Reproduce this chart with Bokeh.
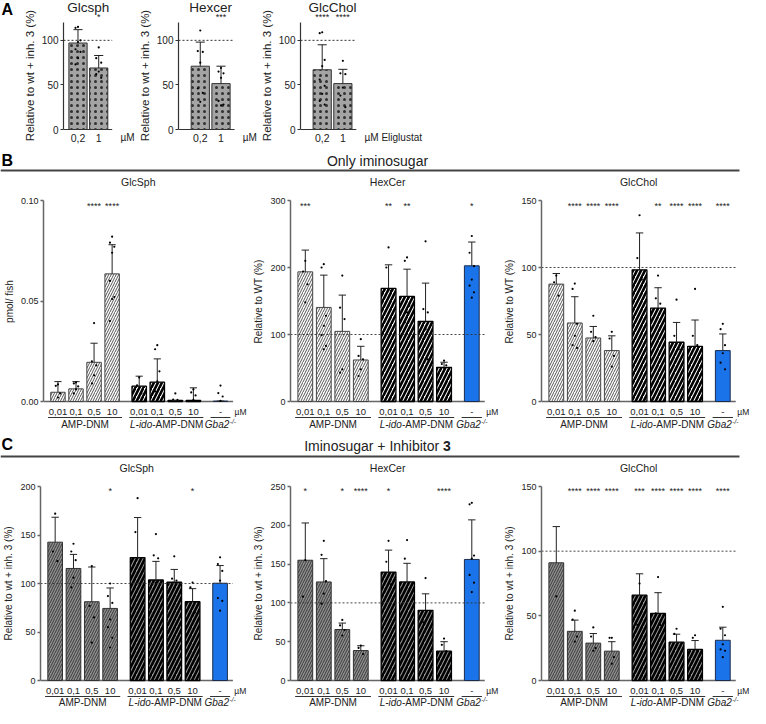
from bokeh.plotting import figure
from bokeh.layouts import column, row
from bokeh.models import Range1d, FixedTicker, PrintfTickFormatter
from bokeh.core.properties import value
from bokeh.embed import file_html
from bokeh.resources import INLINE

FONT = "Liberation Sans"

# ---------------- data: panel A (Eliglustat) ----------------
a_conc = ["0,2", "1"]
a_glcsph_mean = [97, 69]
a_glcsph_err = [15, 14]
a_glcsph_pts = [[115, 114, 100, 98, 90, 87, 80, 73], [92, 80, 75, 65, 62, 58]]
a_glcsph_sig = ["", "*"]

a_hexcer_mean = [71, 51.5]
a_hexcer_err = [27, 19.5]
a_hexcer_pts = [[111, 88, 87, 75, 46, 41, 31], [69, 65, 63, 58, 32, 28, 27]]
a_hexcer_sig = ["", "***"]

a_glcchol_mean = [67, 51.5]
a_glcchol_err = [28, 16]
a_glcchol_pts = [[109, 108, 78, 71, 56, 49, 40, 32, 28], [77, 63, 62, 47, 38, 25]]
a_glcchol_sig = ["****", "****"]

# ---------------- data: panels B/C ----------------
conc = ["0,01", "0,1", "0,5", "10", "0,01", "0,1", "0,5", "10", "-"]
group_of = [0, 0, 0, 0, 1, 1, 1, 1, 2]

# B: only iminosugar
b_glcsph_mean = [0.0046, 0.0063, 0.0195, 0.0635, 0.0076, 0.0096, 0.0005, 0.0006, 0.0002]
b_glcsph_err = [0.0053, 0.0036, 0.0095, 0.0145, 0.0050, 0.0116, 0.0, 0.0062, 0.0]
b_glcsph_pts = [[0.0085, 0.0078, 0.004, 0.002], [0.0095, 0.009, 0.0075, 0.006, 0.004],
                [0.039, 0.02, 0.018, 0.013, 0.009], [0.082, 0.079, 0.077, 0.074, 0.06, 0.052, 0.051, 0.04],
                [0.012, 0.008, 0.004, 0.002], [0.028, 0.026, 0.015, 0.01, 0.005],
                [0.004, 0.001, 0.0008], [0.006, 0.0045, 0.003, 0.0008], [0.0079, 0.0042, 0.0025, 0.0003]]
b_glcsph_sig = ["", "", "****", "****", "", "", "", "", ""]

b_hexcer_mean = [193.5, 140.4, 104.7, 62, 168.7, 156.8, 119.6, 51, 202.5]
b_hexcer_err = [32.5, 48.2, 54.1, 20.4, 35.3, 40.7, 57.1, 7.6, 35.5]
b_hexcer_pts = [[210, 194, 175, 148], [205, 200, 128, 113, 99, 83, 78], [188, 140, 123, 48, 43],
                [93, 68, 63, 48, 38], [230, 200, 165, 143], [215, 210, 143, 133, 118],
                [239, 138, 133, 108, 93, 63], [61, 56, 54, 50], [247, 222, 202, 182, 173, 163, 155]]
b_hexcer_sig = ["***", "", "", "", "**", "**", "", "", "*"]

b_glcchol_mean = [87.6, 58.6, 47.4, 38, 98.3, 69.7, 44.2, 41.2, 38]
b_glcchol_err = [7.9, 19.6, 8.6, 11, 27.5, 15.2, 14.8, 19.6, 12.4]
b_glcchol_pts = [[94, 89, 79], [88, 84, 58, 49, 42, 40], [64, 52, 48, 45], [52, 47, 34, 26],
                 [139, 107, 91], [94, 77, 73], [76, 49, 39], [84, 49, 42], [58, 54, 42, 36, 29, 24]]
b_glcchol_sig = ["", "****", "****", "****", "", "**", "****", "****", "****"]

# C: iminosugar + inhibitor 3
c_glcsph_mean = [142.6, 115.5, 81.2, 74.3, 126.7, 103.6, 101.3, 81.2, 100.3]
c_glcsph_err = [25.7, 14.5, 35.8, 21.1, 41.3, 19.2, 13.2, 13.5, 18.2]
c_glcsph_pts = [[172, 133, 123], [141, 133, 124, 106, 96], [118, 77, 65, 39],
                [100, 87, 80, 63, 55, 44, 34], [188, 153, 100], [151, 129, 126, 101],
                [128, 105, 103], [101, 96, 70, 67], [127, 120, 113, 103, 85, 82, 72]]
c_glcsph_sig = ["", "", "", "*", "", "", "", "*", ""]

c_hexcer_mean = [155, 127, 65.7, 38.6, 139.7, 127, 90.4, 37.8, 156]
c_hexcer_err = [48, 30, 8.3, 6.2, 28.3, 24, 21.3, 12.2, 51]
c_hexcer_pts = [[155, 108], [180, 162, 128, 112, 99], [78, 71, 65, 58], [45, 42, 34],
                [180, 153, 124], [181, 157, 116], [132, 75], [54, 46, 38, 30],
                [229, 227, 161, 157, 136, 126, 114]]
c_hexcer_sig = ["*", "", "*", "****", "*", "", "", "****", ""]

c_glcchol_mean = [91, 38, 28.9, 22.7, 66, 51.9, 29.6, 24, 31.1]
c_glcchol_err = [28, 8.7, 7.4, 7.3, 16.5, 16, 6.2, 6.9, 10.1]
c_glcchol_pts = [[65], [54, 47, 34, 30], [41, 34, 25, 23], [33, 33, 18, 13], [75, 43],
                 [80, 52, 43], [40, 36, 25], [35, 33, 23], [57, 40, 35, 28, 24, 23, 18]]
c_glcchol_sig = ["", "****", "****", "****", "***", "****", "****", "****", "****"]

# ---------------- layout constants ----------------
x_pos = [0, 1, 2, 3, 4.5, 5.5, 6.5, 7.5, 9]
UNIT = 18.5
XS = -0.8
AXIS_END = 9.7
JIT = [0.0, -0.12, 0.12]
TXT = "#222222"


def txt(p, x, y, s, size, align="center", baseline="middle", style="normal", color=TXT):
    p.text(x=[x], y=[y], text=[s], text_font=value(FONT), text_font_size=f"{size}px",
           text_align=align, text_baseline=baseline, text_font_style=style, text_color=color)


def blank_fig(w, h):
    p = figure(width=w, height=h, x_range=Range1d(0, w), y_range=Range1d(h, 0),
               x_axis_location=None, y_axis_location=None, toolbar_location=None,
               output_backend="svg", min_border=0, outline_line_color=None)
    p.grid.visible = False
    return p


def style_yaxis(p, ticks, top, label, lab_size, tick_size, color, width):
    ax = p.yaxis[0]
    ax.ticker = FixedTicker(ticks=ticks)
    ax.bounds = (0, top)
    ax.axis_label = label
    ax.axis_label_text_font = FONT
    ax.axis_label_text_font_style = "normal"
    ax.axis_label_text_font_size = f"{lab_size}px"
    ax.axis_label_text_color = TXT
    ax.axis_label_standoff = 3
    ax.major_label_text_font = FONT
    ax.major_label_text_font_size = f"{tick_size}px"
    ax.major_label_text_color = TXT
    ax.major_label_standoff = 2
    ax.major_tick_in = 0
    ax.major_tick_out = 3
    ax.minor_tick_out = 0
    ax.minor_tick_in = 0
    ax.axis_line_color = color
    ax.axis_line_width = width
    ax.major_tick_line_color = color
    ax.major_tick_line_width = width


def points(p, xs, pts):
    px, py = [], []
    for x, vals in zip(xs, pts):
        for k, v in enumerate(vals):
            px.append(x + JIT[k % 3])
            py.append(v)
    p.scatter(px, py, size=2.2, color="black", line_color=None)


def errors(p, xs, means, errs, cap, color="#222222"):
    tops = [m + e for m, e in zip(means, errs)]
    p.segment(x0=xs, y0=means, x1=xs, y1=tops, line_color=color, line_width=1)
    p.segment(x0=[x - cap for x in xs], y0=tops, x1=[x + cap for x in xs], y1=tops,
              line_color=color, line_width=1)


# ---------------- panel A ----------------
def a_plot(title, means, errs, pts, sig, border, frame_w, x0, unit_text):
    H, px_top, px_zero, top = 150, 22, 129, 120
    s = (px_zero - px_top) / top
    Y = lambda px: (px_zero - px) / s
    x1 = x0 + frame_w / 21.0
    p = figure(width=border + frame_w, height=H, x_range=Range1d(x0, x1),
               y_range=Range1d(-(H - px_zero) / s, top + px_top / s),
               x_axis_location=None, toolbar_location=None, output_backend="svg",
               min_border_left=border, min_border_right=0, min_border_top=0,
               min_border_bottom=0, outline_line_color=None)
    p.grid.visible = False
    style_yaxis(p, [0, 50, 100], top, "Relative to wt + inh. 3 (%)", 11.5, 10, "#333333", 1.2)
    xs = list(range(len(means)))
    end = 1.65
    p.segment(x0=[x0], y0=[0], x1=[end], y1=[0], line_color="#333333", line_width=1.2)
    p.vbar(x=xs, top=means, bottom=0, width=0.88, fill_color="#a4a4a4", line_color="#333333",
           line_width=1, hatch_pattern=".", hatch_color="black", hatch_scale=6,
           hatch_weight=0.7, hatch_alpha=0.7)
    p.segment(x0=[x0], y0=[100], x1=[end], y1=[100], line_dash="2 2", line_color="#333333",
              line_width=1)
    errors(p, xs, means, errs, 0.22)
    points(p, xs, pts)
    for x, sg in zip(xs, sig):
        if sg:
            txt(p, x, Y(16), sg, 9)
    for x, c in zip(xs, a_conc):
        txt(p, x, Y(137), c, 10.5)
    txt(p, 2.05, Y(137), unit_text, 10, align="left")
    txt(p, 0.5, Y(7), title, 13.5)
    return p


letterA = blank_fig(20, 150)
txt(letterA, 1, 9, "A", 16, align="left", style="bold", color="black")
a1 = a_plot("Glcsph", a_glcsph_mean, a_glcsph_err, a_glcsph_pts, a_glcsph_sig, 42, 73, -0.7, "\u00b5M")
a2 = a_plot("Hexcer", a_hexcer_mean, a_hexcer_err, a_hexcer_pts, a_hexcer_sig, 42, 80, -1.05, "\u00b5M")
a3 = a_plot("GlcChol", a_glcchol_mean, a_glcchol_err, a_glcchol_pts, a_glcchol_sig, 41, 126, -1.05,
            "\u00b5M Eliglustat")

# ---------------- panels B/C ----------------
STY = {
    "B": [dict(fill_color="white", hatch_pattern="/", hatch_color="#555555", hatch_scale=5,
               hatch_weight=1.0, line_color="#444444", line_width=1),
          dict(fill_color="white", hatch_pattern="/", hatch_color="black", hatch_scale=8,
               hatch_weight=2.6, line_color="black", line_width=1.3),
          dict(fill_color="#1a73e8", line_color="#1d2b4a", line_width=1)],
    "C": [dict(fill_color="#8e8e8e", hatch_pattern="/", hatch_color="#3a3a3a", hatch_scale=5,
               hatch_weight=1.0, line_color="#333333", line_width=1),
          dict(fill_color="#9a9a9a", hatch_pattern="/", hatch_color="black", hatch_scale=8,
               hatch_weight=2.6, line_color="black", line_width=1.3),
          dict(fill_color="#1a73e8", line_color="#1d2b4a", line_width=1)],
}


def bc_plot(section, title, ylabel, means, errs, pts, sig, top, ticks, width, border, geo,
            fmt=None, ref100=True):
    H, px_top, px_zero, px_lab, px_gline, px_glab, px_title, px_star = geo
    frame_w = width - border
    xe = XS + frame_w / UNIT
    s = (px_zero - px_top) / top
    Y = lambda px: (px_zero - px) / s
    p = figure(width=width, height=H, x_range=Range1d(XS, xe),
               y_range=Range1d(-(H - px_zero) / s, top + px_top / s),
               x_axis_location=None, toolbar_location=None, output_backend="svg",
               min_border_left=border, min_border_right=0, min_border_top=0,
               min_border_bottom=0, outline_line_color=None)
    p.grid.visible = False
    style_yaxis(p, ticks, top, ylabel, 10, 9, "#666666", 1.5)
    if fmt:
        p.yaxis[0].formatter = PrintfTickFormatter(format=fmt)
    p.segment(x0=[XS], y0=[0], x1=[AXIS_END], y1=[0], line_color="#666666", line_width=1.5)
    for g in range(3):
        idx = [i for i in range(len(means)) if group_of[i] == g]
        p.vbar(x=[x_pos[i] for i in idx], top=[means[i] for i in idx], bottom=0, width=0.8,
               **STY[section][g])
    if ref100:
        p.segment(x0=[XS], y0=[100], x1=[AXIS_END], y1=[100], line_dash="2 2",
                  line_color="#333333", line_width=0.9)
    errors(p, x_pos, means, errs, 0.2)
    points(p, x_pos, pts)
    for x, sg in zip(x_pos, sig):
        if sg:
            txt(p, x, Y(px_star), sg, 9)
    for x, c in zip(x_pos, conc):
        txt(p, x, Y(px_lab), c, 9.5)
    txt(p, AXIS_END + 0.08, Y(px_lab), "\u00b5M", 8.5, align="left")
    # group underlines and labels
    for g in range(3):
        gx = [x_pos[i] for i in range(len(conc)) if group_of[i] == g]
        p.segment(x0=[min(gx) - 0.55], y0=[Y(px_gline)], x1=[max(gx) + 0.55], y1=[Y(px_gline)],
                  line_color="#333333", line_width=1)
    g0 = [x_pos[i] for i in range(len(conc)) if group_of[i] == 0]
    g1 = [x_pos[i] for i in range(len(conc)) if group_of[i] == 1]
    g2 = [x_pos[i] for i in range(len(conc)) if group_of[i] == 2]
    txt(p, sum(g0) / len(g0), Y(px_glab), "AMP-DNM", 10)
    split = sum(g1) / len(g1) - 14.4 / UNIT
    txt(p, split, Y(px_glab), "L-ido", 10, align="right", style="italic")
    txt(p, split, Y(px_glab), "-AMP-DNM", 10, align="left")
    gc = g2[0] + 9.0 / UNIT
    txt(p, gc, Y(px_glab), "Gba2", 10, align="right", style="italic")
    txt(p, gc + 0.03, Y(px_glab - 3), "-/-", 6.5, align="left", style="italic")
    txt(p, (XS + AXIS_END) / 2, Y(px_title), title, 10.5)
    return p


GEO_B = (258, 28, 229, 239, 245, 252, 9, 33)
GEO_C = (250, 28, 222, 232, 238, 244, 9, 32)

b1 = bc_plot("B", "GlcSph", "pmol/ fish", b_glcsph_mean, b_glcsph_err, b_glcsph_pts, b_glcsph_sig,
             0.10, [0, 0.05, 0.10], 248, 38, GEO_B, fmt="%.2f", ref100=False)
b2 = bc_plot("B", "HexCer", "Relative to WT (%)", b_hexcer_mean, b_hexcer_err, b_hexcer_pts,
             b_hexcer_sig, 300, [0, 100, 200, 300], 251, 42, GEO_B)
b3 = bc_plot("B", "GlcChol", "Relative to WT (%)", b_glcchol_mean, b_glcchol_err, b_glcchol_pts,
             b_glcchol_sig, 150, [0, 50, 100, 150], 251, 42, GEO_B)

c1 = bc_plot("C", "GlcSph", "Relative to wt + inh. 3 (%)", c_glcsph_mean, c_glcsph_err,
             c_glcsph_pts, c_glcsph_sig, 200, [0, 50, 100, 150, 200], 248, 38, GEO_C)
c2 = bc_plot("C", "HexCer", "Relative to wt + inh. 3 (%)", c_hexcer_mean, c_hexcer_err,
             c_hexcer_pts, c_hexcer_sig, 250, [0, 50, 100, 150, 200, 250], 251, 42, GEO_C)
c3 = bc_plot("C", "GlcChol", "Relative to wt + inh. 3 (%)", c_glcchol_mean, c_glcchol_err,
             c_glcchol_pts, c_glcchol_sig, 150, [0, 50, 100, 150], 251, 42, GEO_C)

# ---------------- section headers ----------------
headB = blank_fig(750, 22)
txt(headB, 1, 10, "B", 16, align="left", style="bold", color="black")
txt(headB, 377, 10, "Only iminosugar", 14)
headB.segment(x0=[0], y0=[20], x1=[739], y1=[20], line_color="#444444", line_width=2.2)

headC = blank_fig(750, 28)
txt(headC, 1, 14, "C", 16, align="left", style="bold", color="black")
txt(headC, 442.6, 15, "Iminosugar + Inhibitor ", 14, align="right")
txt(headC, 442.6, 15, "3", 14, align="left", style="bold")
headC.segment(x0=[0], y0=[26], x1=[739], y1=[26], line_color="#444444", line_width=2.2)

layout = column(row(letterA, a1, a2, a3), headB, row(b1, b2, b3), headC, row(c1, c2, c3))

open("out.html", "w").write(file_html(layout, INLINE))
